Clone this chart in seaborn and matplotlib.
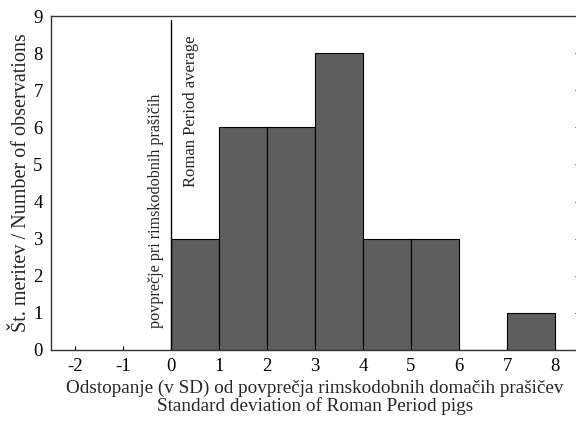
import numpy as np
import pandas as pd
import matplotlib
matplotlib.use("Agg")
import matplotlib.pyplot as plt
import seaborn as sns

# Data: histogram bins (SD from Roman period mean) and counts
bin_edges = [0, 1, 2, 3, 4, 5, 6, 7, 8]
bin_centers = [0.5, 1.5, 2.5, 3.5, 4.5, 5.5, 6.5, 7.5]
counts = [3, 6, 6, 8, 3, 3, 0, 1]
xticks = [-2, -1, 0, 1, 2, 3, 4, 5, 6, 7, 8]
yticks = [0, 1, 2, 3, 4, 5, 6, 7, 8, 9]

sns.set_style("white")
plt.rcParams['font.family'] = ['Liberation Serif', 'DejaVu Serif']
plt.rcParams['axes.unicode_minus'] = False

df = pd.DataFrame({"sd": bin_centers, "n": counts})

fig = plt.figure(figsize=(5.76, 4.21), dpi=100)
ax = fig.add_axes([51/576, 71/421, (579-51)/576, (350-16)/421])

sns.histplot(data=df, x="sd", weights="n", bins=bin_edges, ax=ax,
             color="#5e5e5e", edgecolor="black", linewidth=0.8, alpha=1.0)

ax.axvline(0, ymin=0, ymax=8.88/9, color="black", linewidth=1.0)

ax.text(-0.31, 0.6, "povprečje pri rimskodobnih prašičih", rotation=90,
        ha="center", va="bottom", fontsize=11.6)
ax.text(0.42, 4.4, "Roman Period average", rotation=90,
        ha="center", va="bottom", fontsize=12)

ax.set_xlim(-2.5, 8.5)
ax.set_ylim(0, 9)
ax.set_xticks(xticks)
ax.set_yticks(yticks)
ax.tick_params(axis="both", direction="in", length=3, width=0.8,
               labelsize=13.5, colors="black", pad=6)
ax.tick_params(axis="y", right=True, left=False)
ax.tick_params(axis="x", bottom=True, top=False)

ax.set_xlabel("Odstopanje (v SD) od povprečja rimskodobnih domačih prašičev\n"
              "Standard deviation of Roman Period pigs", fontsize=13.8,
              linespacing=1.0, labelpad=3)
ax.set_ylabel("Št. meritev / Number of observations", fontsize=14.5, labelpad=2)

for s in ax.spines.values():
    s.set_color("#333333")
    s.set_linewidth(1.0)

fig.savefig("out.png", dpi=100)
